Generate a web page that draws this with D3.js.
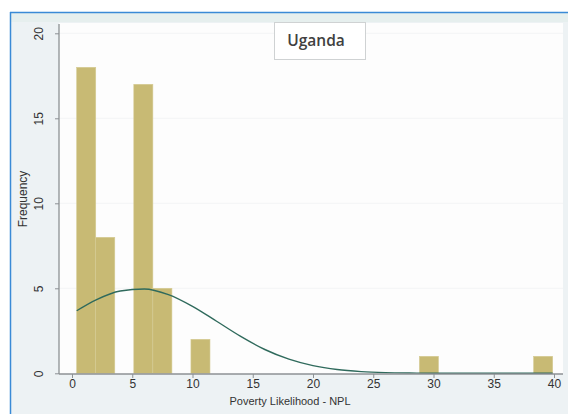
<!DOCTYPE html>
<html>
<head>
<meta charset="utf-8">
<script src="https://cdn.jsdelivr.net/npm/d3@7/dist/d3.min.js"></script>
<style>
  body { margin: 0; background: #fff; }
  svg { display: block; font-family: "Liberation Sans", Arial, sans-serif; }
</style>
</head>
<body>
<div class="container"></div>
<script>
// histogram bins (left edge, width) and counts
const binStart = 0.39;
const binWidth = 1.58;
const counts = [18, 8, 0, 17, 5, 0, 2, 0, 0, 0, 0, 0, 0, 0, 0, 0, 0, 0, 1, 0, 0, 0, 0, 0, 1];

// normal curve overlay
const curveX = [0.39, 2, 4, 6, 8, 10, 12, 14, 16, 18, 20, 22, 24, 26, 28, 30, 34, 39.89];
const curveY = [3.68, 4.32, 4.84, 4.96, 4.63, 3.94, 3.06, 2.17, 1.40, 0.83, 0.45, 0.22, 0.10, 0.04, 0.015, 0.005, 0, 0];

const xTicks = [0, 5, 10, 15, 20, 25, 30, 35, 40];
const yTicks = [0, 5, 10, 15, 20];

const title = "Uganda";
const xTitle = "Poverty Likelihood - NPL";
const yTitle = "Frequency";

const w = 568, h = 414;

const svg = d3.select(".container").append("svg")
    .attr("width", w)
    .attr("height", h);

/* frame: blue selection border on top and left, light graph region */
svg.append("rect")
    .attr("x", 10).attr("y", 12)
    .attr("width", w - 10).attr("height", h - 12)
    .attr("fill", "#edf2f4");
svg.append("rect")
    .attr("x", 11).attr("y", 13)
    .attr("width", w - 11).attr("height", 9)
    .attr("fill", "#e6efee");
svg.append("line")
    .attr("x1", 10).attr("x2", w).attr("y1", 12.5).attr("y2", 12.5)
    .attr("stroke", "#3a8ad6").attr("stroke-width", 1.5);
svg.append("line")
    .attr("x1", 10.5).attr("x2", 10.5).attr("y1", 12).attr("y2", h)
    .attr("stroke", "#3a8ad6").attr("stroke-width", 1.5);

/* plot region */
const plotL = 59, plotR = 563, plotT = 23, plotB = 374;
svg.append("rect")
    .attr("x", plotL).attr("y", plotT)
    .attr("width", plotR - plotL).attr("height", plotB - plotT)
    .attr("fill", "#fdfdfd");

const xScale = d3.scaleLinear().domain([0, 40]).range([72, 554]);
const yScale = d3.scaleLinear().domain([0, 20]).range([373.3, 33.3]);

/* faint gridlines */
svg.append("g")
    .selectAll("line")
    .data(yTicks.slice(1))
    .enter()
    .append("line")
    .attr("x1", plotL).attr("x2", plotR)
    .attr("y1", d => yScale(d)).attr("y2", d => yScale(d))
    .attr("stroke", "#f3f4f5").attr("stroke-width", 1);

/* bars */
const bins = counts.map((c, i) => ({ x0: binStart + i * binWidth, x1: binStart + (i + 1) * binWidth, n: c }))
    .filter(d => d.n > 0);

svg.append("g")
    .selectAll("rect")
    .data(bins)
    .enter()
    .append("rect")
    .attr("x", d => xScale(d.x0))
    .attr("y", d => yScale(d.n))
    .attr("width", d => xScale(d.x1) - xScale(d.x0))
    .attr("height", d => yScale(0) - yScale(d.n))
    .attr("fill", "#c8ba74")
    .attr("stroke", "#d5cb93")
    .attr("stroke-width", 0.6);

/* normal curve */
const line = d3.line()
    .x(d => xScale(d[0]))
    .y(d => yScale(d[1]))
    .curve(d3.curveMonotoneX);

svg.append("path")
    .datum(curveX.map((x, i) => [x, curveY[i]]))
    .attr("d", line)
    .attr("fill", "none")
    .attr("stroke", "#2f6a5c")
    .attr("stroke-width", 1.4);

/* axes */
const xAxis = d3.axisBottom(xScale).tickValues(xTicks).tickSize(4).tickFormat(d3.format("d"));
const gx = svg.append("g")
    .attr("transform", `translate(0, ${plotB})`)
    .call(xAxis);
gx.select(".domain").remove();
gx.selectAll(".tick line").attr("stroke", "#8c9194");
gx.selectAll(".tick text")
    .attr("y", 14).attr("dy", 0)
    .attr("fill", "#333")
    .style("font-size", "12px");
gx.append("line")
    .attr("x1", plotL).attr("x2", plotR)
    .attr("stroke", "#8c9194").attr("stroke-width", 1.3);

const yAxis = d3.axisLeft(yScale).tickValues(yTicks).tickSize(4);
const gy = svg.append("g")
    .attr("transform", `translate(${plotL}, 0)`)
    .call(yAxis);
gy.select(".domain").remove();
gy.selectAll(".tick line").attr("stroke", "#8c9194");
gy.selectAll(".tick text")
    .attr("transform", "rotate(-90)")
    .attr("x", 0).attr("y", -16).attr("dy", 0)
    .style("text-anchor", "middle")
    .attr("fill", "#333")
    .style("font-size", "12px");
gy.append("line")
    .attr("y1", plotT + 1).attr("y2", plotB)
    .attr("stroke", "#8c9194").attr("stroke-width", 1.3);

/* axis titles */
svg.append("text")
    .attr("x", 290).attr("y", 405)
    .style("text-anchor", "middle")
    .style("font-size", "11px")
    .attr("fill", "#333")
    .text(xTitle);

svg.append("text")
    .attr("transform", "rotate(-90)")
    .attr("x", -199).attr("y", 27)
    .style("text-anchor", "middle")
    .style("font-size", "12px")
    .attr("fill", "#333")
    .text(yTitle);

/* title box */
svg.append("rect")
    .attr("x", 274.5).attr("y", 22.5)
    .attr("width", 91).attr("height", 37)
    .attr("fill", "#fff")
    .attr("stroke", "#cfd2d3");
svg.append("text")
    .attr("x", 316).attr("y", 46)
    .style("text-anchor", "middle")
    .style("font-family", "'Open Sans', sans-serif")
    .style("font-size", "15.5px")
    .style("font-weight", 600)
    .attr("fill", "#404040")
    .text(title);
</script>
</body>
</html>
